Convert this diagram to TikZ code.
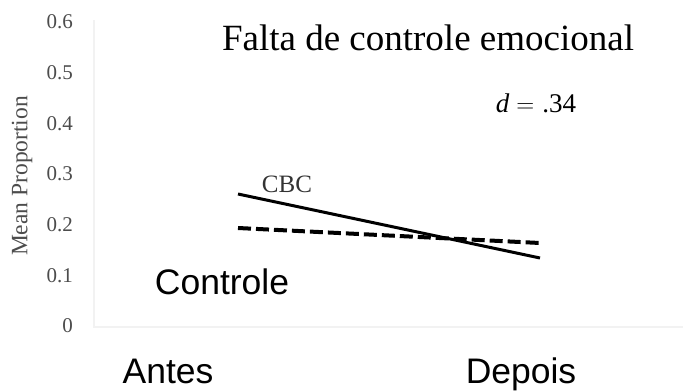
\documentclass[tikz,border=0pt]{standalone}
\usepackage{fontspec}
\setmainfont{Liberation Serif}
\setsansfont{Liberation Sans}
\usetikzlibrary{positioning}
\tikzset{
  axisline/.style={line width=2.5pt, black!5},
  ticklabel/.style={font=\fontsize{21}{21}\selectfont, text=black!70, anchor=east, inner sep=0pt},
  grouplabel/.style={font=\sffamily\fontsize{35.5}{35.5}\selectfont, inner sep=0pt, anchor=base},
  cbcline/.style={line width=3pt, black},
  ctrlline/.style={line width=4pt, black, dash pattern=on 13pt off 5pt}
}

\begin{document}
\begin{tikzpicture}[x=1pt, y=-1pt]
\useasboundingbox (0,0) rectangle (683,391);

% --- Axes ---
\coordinate (O) at (94,327);
\coordinate (ytop) at (94,20);
\coordinate (xend) at (683,327);
\draw[axisline] (ytop) -- (O) -- (xend);

% --- Tick labels ---
\foreach \v/\lab in {0/0, 1/0.1, 2/0.2, 3/0.3, 4/0.4, 5/0.5, 6/0.6} {
  \node[ticklabel] (tick\v) at (73, 326-50.7*\v) {\lab};
}
\node[rotate=90, font=\fontsize{23.5}{23.5}\selectfont, text=black!70] (ylab) at (22,176) {Mean Proportion};

% --- Data lines ---
\coordinate (cbcA) at (238,194);
\coordinate (cbcB) at (540,258);
\coordinate (ctrlA) at (238,228);
\coordinate (ctrlB) at (540,243);
\draw[cbcline] (cbcA) -- (cbcB);
\draw[ctrlline] (ctrlA) -- (ctrlB);

% --- Labels ---
\node[font=\fontsize{25}{25}\selectfont, text=black!80] (cbc) at (287,184) {CBC};
\node[grouplabel] (ctrl) at (222,294) {Controle};
\node[grouplabel] (antes) at (168,383) {Antes};
\node[grouplabel] (depois) at (521,383) {Depois};
\node[font=\fontsize{37}{37}\selectfont, anchor=base] (title) at (428,50) {Falta de controle emocional};
\node[font=\fontsize{27}{27}\selectfont, anchor=base] (dval) at (536,112) {\textit{d}\hspace{0.25em}$=$\hspace{0.3em}.34};

\end{tikzpicture}
\end{document}
